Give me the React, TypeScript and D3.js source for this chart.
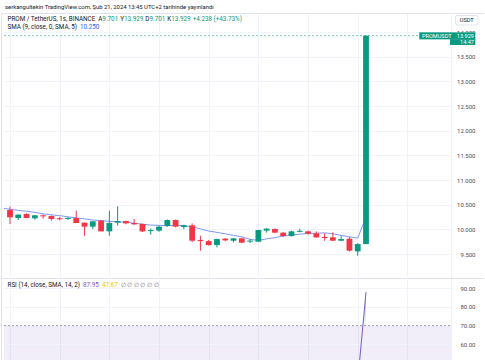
import React from 'react';
import * as d3 from 'd3';

const W = 485;
const H = 360;

const opens = [10.392, 10.229, 10.311, 10.224, 10.285, 10.27, 10.224, 10.224, 10.229, 10.136, 10.055, 10.177, 9.959, 10.136, 10.169, 10.128, 10.108, 9.975, 9.974, 10.067, 10.189, 10.047, 10.081, 9.783, 9.762, 9.681, 9.811, 9.77, 9.817, 9.766, 9.75, 9.974, 10.006, 9.933, 9.864, 9.955, 9.959, 9.919, 9.845, 9.837, 9.77, 9.811, 9.553, 9.701];
const highs = [10.461, 10.305, 10.325, 10.29, 10.299, 10.285, 10.25, 10.25, 10.38, 10.136, 10.163, 10.19, 10.38, 10.467, 10.175, 10.21, 10.115, 10.02, 10.07, 10.2, 10.2, 10.096, 10.122, 9.872, 9.783, 9.81, 9.825, 9.825, 9.83, 9.8, 9.99, 10.026, 10.02, 9.945, 9.975, 10.014, 9.975, 9.959, 9.919, 9.94, 9.872, 9.84, 9.721, 13.929];
const lows = [10.108, 10.189, 10.229, 10.197, 10.217, 10.177, 10.183, 10.19, 10.128, 9.872, 10.006, 9.959, 9.872, 10.075, 10.102, 10.09, 9.945, 9.892, 9.95, 10.05, 10.04, 10.0, 9.742, 9.567, 9.67, 9.634, 9.76, 9.735, 9.72, 9.725, 9.745, 9.933, 9.92, 9.85, 9.855, 9.939, 9.89, 9.83, 9.77, 9.76, 9.76, 9.55, 9.465, 9.701];
const closes = [10.244, 10.299, 10.229, 10.285, 10.264, 10.209, 10.218, 10.232, 10.128, 10.055, 10.163, 9.959, 10.128, 10.169, 10.122, 10.102, 9.959, 9.985, 10.055, 10.189, 10.055, 10.081, 9.77, 9.762, 9.681, 9.803, 9.776, 9.817, 9.73, 9.772, 9.986, 10.014, 9.933, 9.864, 9.959, 9.97, 9.913, 9.837, 9.837, 9.77, 9.803, 9.567, 9.701, 13.929];
// SMA values starting at candle index -1
const smaStart = -1;
const smaValues = [10.43, 10.407, 10.386, 10.366, 10.346, 10.315, 10.295, 10.278, 10.254, 10.234, 10.213, 10.189, 10.177, 10.163, 10.152, 10.142, 10.126, 10.106, 10.087, 10.081, 10.075, 10.081, 10.075, 10.051, 10.01, 9.965, 9.939, 9.909, 9.878, 9.848, 9.797, 9.776, 9.807, 9.831, 9.864, 9.888, 9.902, 9.915, 9.923, 9.929, 9.909, 9.878, 9.848, 9.823, 10.25];
const rsiIndex = [42, 43];
const rsiValues = [40.2, 87.95];
const priceTicks = [9.5, 10, 10.5, 11, 11.5, 12, 12.5, 13, 13.5, 14];
const rsiTicks = [60, 70, 80, 90];
const gridCandles = [0, 6, 12, 18, 24, 30, 36, 42, 48];

const UP = '#089981';
const DOWN = '#F23645';
const TEXT = '#131722';
const GRID = '#f0f3fa';
const FONT = 'Roboto, "Liberation Sans", sans-serif';

export default function App() {
  const x = d3.scaleLinear().domain([0, 43]).range([10, 366]);
  const y = d3.scaleLinear().domain([9.5, 13.5]).range([254, 56.8]);
  const ry = d3.scaleLinear().domain([60, 90]).range([344.3, 288.3]);

  const plotL = 4;
  const plotR = 451.5;
  const top = 13;
  const sep = 278;
  const bodyW = 5.8;

  const smaLine = d3
    .line<number>()
    .x((_, i) => x(i + smaStart))
    .y((d) => y(d));

  const rsiLine = d3
    .line<number>()
    .x((_, i) => x(rsiIndex[i]))
    .y((d) => ry(d));

  // overbought fill between RSI line and the 70 level
  const r0 = rsiValues[0];
  const r1 = rsiValues[1];
  const t70 = (70 - r0) / (r1 - r0);
  const x70 = x(rsiIndex[0]) + t70 * (x(rsiIndex[1]) - x(rsiIndex[0]));
  const obArea = `M${x70},${ry(70)}L${x(rsiIndex[1])},${ry(r1)}L${x(rsiIndex[1])},${ry(70)}Z`;

  const last = closes[closes.length - 1];
  const lastY = y(last);

  return (
    <svg width={W} height={H} style={{ display: 'block', fontFamily: FONT }}>
      <style>{`body{margin:0}`}</style>
      <defs>
        <clipPath id="pricePane">
          <rect x={plotL} y={top} width={plotR - plotL} height={sep - top} />
        </clipPath>
        <clipPath id="rsiPane">
          <rect x={plotL} y={sep} width={plotR - plotL} height={H - sep} />
        </clipPath>
        <linearGradient id="obGrad" x1="0" y1="0" x2="0" y2="1">
          <stop offset="0" stopColor={UP} stopOpacity={0.45} />
          <stop offset="1" stopColor={UP} stopOpacity={0.05} />
        </linearGradient>
      </defs>
      <rect x={0} y={0} width={W} height={H} fill="#ffffff" />

      {/* header */}
      <text x={5} y={8.8} fontSize={5.9} fill={TEXT}>
        serkangultekin TradingView.com, Şub 21, 2024 13:45 UTC+2 tarihinde yayınlandı
      </text>

      {/* frame */}
      <line x1={1} x2={484} y1={top + 0.5} y2={top + 0.5} stroke="#e0e3eb" />
      <line x1={1.5} x2={1.5} y1={top} y2={H} stroke="#e0e3eb" />
      <line x1={plotR} x2={plotR} y1={top} y2={H} stroke={GRID} />
      <line x1={1} x2={484} y1={sep + 0.5} y2={sep + 0.5} stroke="#e0e3eb" />

      {/* vertical grid */}
      {gridCandles.map((c) => (
        <line key={'vg' + c} x1={Math.round(x(c)) + 0.5} x2={Math.round(x(c)) + 0.5} y1={top + 1} y2={H} stroke={GRID} />
      ))}

      {/* horizontal grid, price pane */}
      <g clipPath="url(#pricePane)">
        {priceTicks.map((t) => (
          <line key={'hg' + t} x1={plotL} x2={plotR} y1={Math.round(y(t)) + 0.5} y2={Math.round(y(t)) + 0.5} stroke={GRID} />
        ))}
      </g>

      {/* legend */}
      <text x={7.5} y={21.2} fontSize={6.3} fill={TEXT}>
        <tspan>PROM / TetherUS, 1s, BINANCE</tspan>
        <tspan dx={3}>A</tspan>
        <tspan fill={UP}>9.701</tspan>
        <tspan dx={2} fill={TEXT}>Y</tspan>
        <tspan fill={UP}>13.929</tspan>
        <tspan dx={2} fill={TEXT}>D</tspan>
        <tspan fill={UP}>9.701</tspan>
        <tspan dx={2} fill={TEXT}>K</tspan>
        <tspan fill={UP}>13.929</tspan>
        <tspan dx={2} fill={UP}>+4.238 (+43.73%)</tspan>
      </text>
      <text x={7.5} y={28.9} fontSize={6.3} fill={TEXT}>
        <tspan>SMA (9, close, 0, SMA, 5)</tspan>
        <tspan dx={3} fill="#2962FF">10.250</tspan>
      </text>

      {/* price pane content */}
      <g clipPath="url(#pricePane)">
        <line x1={plotL} x2={419} y1={lastY} y2={lastY} stroke={UP} strokeOpacity={0.55} strokeDasharray="2,2" />
        <path d={smaLine(smaValues) || ''} fill="none" stroke="#7f97f7" strokeWidth={1} />
        {opens.map((o, i) => {
          const c = closes[i];
          const col = c >= o ? UP : DOWN;
          const cx = x(i);
          const yt = y(Math.max(o, c));
          const yb = y(Math.min(o, c));
          return (
            <g key={'c' + i}>
              <line x1={cx} x2={cx} y1={y(highs[i])} y2={y(lows[i])} stroke={col} strokeWidth={1} />
              <rect x={cx - bodyW / 2} y={yt} width={bodyW} height={Math.max(1, yb - yt)} fill={col} />
            </g>
          );
        })}
      </g>

      {/* price axis labels */}
      {priceTicks.map((t) => (
        <text key={'pl' + t} x={475.5} y={y(t)} fontSize={6} fill="#4a4d57" textAnchor="end" dominantBaseline="central">
          {t.toFixed(3)}
        </text>
      ))}

      {/* USDT box */}
      <rect x={455.5} y={15.5} width={22.5} height={9.5} rx={1.5} fill="#ffffff" stroke="#e0e3eb" />
      <text x={466.7} y={20.3} fontSize={5.6} fill={TEXT} textAnchor="middle" dominantBaseline="central">
        USDT
      </text>

      {/* last price label */}
      <rect x={419.3} y={lastY - 3.3} width={56} height={7} fill={UP} />
      <rect x={450} y={lastY + 3.5} width={25.3} height={5.8} fill={UP} />
      <text x={422} y={lastY + 0.2} fontSize={5.6} fill="#ffffff" dominantBaseline="central">
        PROMUSDT
      </text>
      <text x={474} y={lastY + 0.2} fontSize={5.6} fill="#ffffff" textAnchor="end" dominantBaseline="central">
        {last.toFixed(3)}
      </text>
      <text x={474} y={lastY + 6.4} fontSize={5.6} fill="#ffffff" textAnchor="end" dominantBaseline="central">
        14:47
      </text>

      {/* RSI pane */}
      <g clipPath="url(#rsiPane)">
        <rect x={plotL} y={ry(70)} width={plotR - plotL} height={H - ry(70)} fill="#7e57c2" fillOpacity={0.1} />
        {rsiTicks
          .filter((t) => t !== 70)
          .map((t) => (
            <line key={'rg' + t} x1={plotL} x2={plotR} y1={Math.round(ry(t)) + 0.5} y2={Math.round(ry(t)) + 0.5} stroke={GRID} />
          ))}
        <line x1={plotL} x2={plotR} y1={ry(70)} y2={ry(70)} stroke="#9598a1" strokeDasharray="2,2" />
        <path d={obArea} fill="url(#obGrad)" />
        <path d={rsiLine(rsiValues) || ''} fill="none" stroke="#7e57c2" strokeWidth={1} />
      </g>
      <text x={7.5} y={287} fontSize={6.3} fill={TEXT}>
        <tspan>RSI (14, close, SMA, 14, 2)</tspan>
        <tspan dx={3} fill="#7e57c2">87.95</tspan>
        <tspan dx={3} fill="#e6c700">47.67</tspan>
        <tspan dx={3} fill="#787b86">∅ ∅ ∅ ∅ ∅ ∅</tspan>
      </text>
      {rsiTicks.map((t) => (
        <text key={'rl' + t} x={475.5} y={ry(t)} fontSize={6} fill="#4a4d57" textAnchor="end" dominantBaseline="central">
          {t.toFixed(2)}
        </text>
      ))}
    </svg>
  );
}
